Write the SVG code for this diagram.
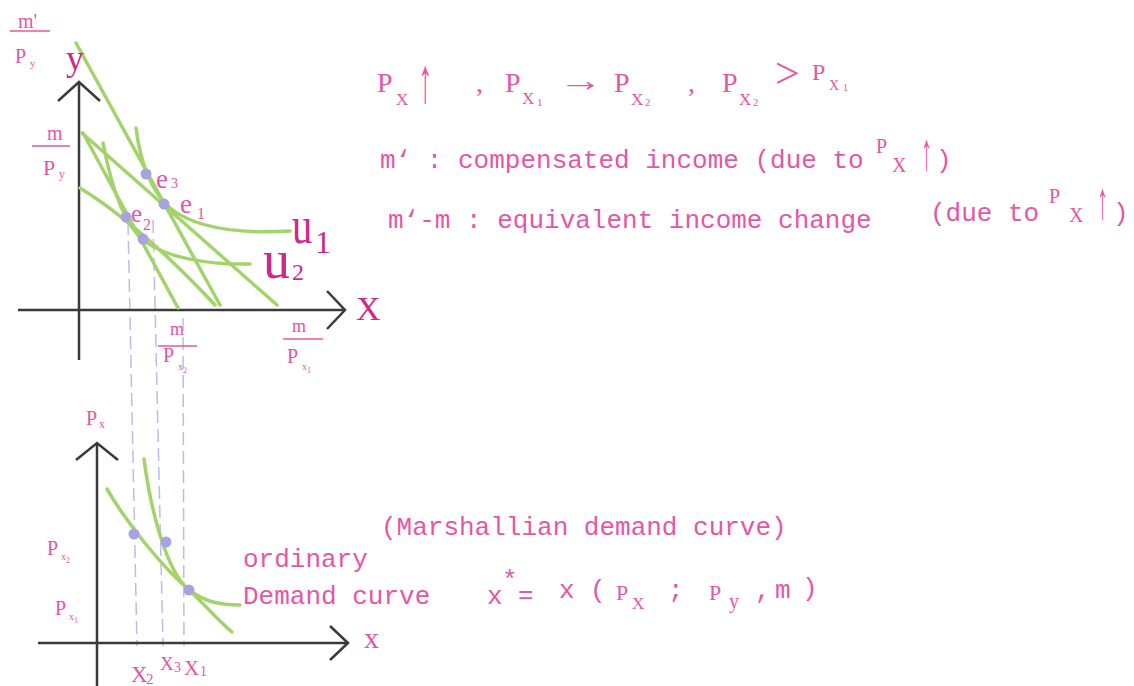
<svg xmlns="http://www.w3.org/2000/svg" width="1134" height="686" viewBox="0 0 1134 686">
<style>
.t{font-family:"Liberation Mono",monospace;font-size:26px;fill:#e656a6}
.s{font-family:"Liberation Serif",serif;fill:#e656a6}
.b{font-family:"Liberation Serif",serif;fill:#d1268c}
.ax{stroke:#3a3a3a;stroke-width:2.5;fill:none}
.g{stroke:#a3d46c;stroke-width:3.5;fill:none;stroke-linecap:round}
.d{stroke:#bcbcec;stroke-width:1.5;stroke-dasharray:13 6;fill:none}
.dot{fill:#a6a3de}
.fr{stroke:#e656a6;stroke-width:1.6}
</style>
<rect width="1134" height="686" fill="#ffffff"/>

<g id="connectors">
<path class="d" d="M128,222 L137,646"/>
<path class="d" d="M153,220 L163,646"/>
<path class="d" d="M183,318 L184,646"/>
</g>

<g id="top-graph">
<path class="ax" d="M79,82 L79,360 M18,310 L344,310 M58,101 L79,82 L100,101 M327,291 L345,310 L327,329"/>
<path class="g" d="M76,43 L220,305"/>
<path class="g" d="M82,133 L277,305"/>
<path class="g" d="M83,133 L178,308"/>
<path class="g" d="M80,188 Q140,225 215,305"/>
<path class="g" d="M136,128 C140,160 150,190 170,208 C195,228 240,234 290,231"/>
<path class="g" d="M103,143 C112,190 125,225 143,240 C165,258 210,265 250,264"/>
<circle class="dot" cx="146" cy="174" r="5.5"/>
<circle class="dot" cx="164" cy="204" r="5.5"/>
<circle class="dot" cx="126" cy="217" r="5.5"/>
<circle class="dot" cx="143" cy="239" r="5.5"/>
</g>

<g id="top-labels">
<text class="s" x="18" y="28" font-size="20">m'</text>
<line class="fr" x1="10" y1="31" x2="50" y2="31"/>
<text class="s" x="15" y="63" font-size="20">P</text>
<text class="s" x="30" y="67" font-size="11">y</text>
<text class="b" x="66" y="70" font-size="36">y</text>
<text class="s" x="47" y="140" font-size="20">m</text>
<line class="fr" x1="32" y1="146" x2="70" y2="146"/>
<text class="s" x="43" y="175" font-size="22">P</text>
<text class="s" x="59" y="178" font-size="12">y</text>
<text class="s" x="156" y="188" font-size="27">e</text>
<text class="s" x="171" y="188" font-size="14">3</text>
<text class="s" x="180" y="213" font-size="27">e</text>
<text class="s" x="197" y="219" font-size="16">1</text>
<text class="s" x="131" y="222" font-size="25">e</text>
<text class="s" x="143" y="230" font-size="16">2</text>
<text class="b" transform="translate(292,243) scale(0.78,1)" font-size="52">u</text>
<text class="b" x="315" y="253" font-size="32">1</text>
<text class="b" x="263" y="278" font-size="54">u</text>
<text class="b" x="292" y="280" font-size="24">2</text>
<text class="b" x="356" y="320" font-size="34">X</text>
<text class="s" x="170" y="335" font-size="18">m</text>
<line class="fr" x1="158" y1="346" x2="197" y2="346"/>
<text class="s" x="163" y="362" font-size="20">P</text>
<text class="s" x="178" y="370" font-size="10">x</text>
<text class="s" x="183" y="373" font-size="8">2</text>
<text class="s" x="292" y="332" font-size="18">m</text>
<line class="fr" x1="283" y1="339" x2="323" y2="339"/>
<text class="s" x="287" y="363" font-size="20">P</text>
<text class="s" x="302" y="370" font-size="10">x</text>
<text class="s" x="307" y="373" font-size="8">1</text>
</g>

<g id="bottom-graph">
<path class="ax" d="M97,443 L97,686 M38,643 L348,643 M76,460 L97,443 L118,460 M330,626 L348,643 L330,660"/>
<path class="g" d="M107,489 C125,520 160,565 189,590 C205,605 220,622 232,632"/>
<path class="g" d="M144,459 C150,505 165,570 189,590 C205,602 220,605 240,605"/>
<circle class="dot" cx="134" cy="534" r="5.5"/>
<circle class="dot" cx="166" cy="542" r="5.5"/>
<circle class="dot" cx="189" cy="590" r="5.5"/>
<text class="s" x="86" y="425" font-size="20">P</text>
<text class="s" x="99" y="428" font-size="12">x</text>
<text class="s" x="47" y="555" font-size="20">P</text>
<text class="s" x="61" y="560" font-size="10">x</text>
<text class="s" x="66" y="563" font-size="8">2</text>
<text class="s" x="55" y="615" font-size="20">P</text>
<text class="s" x="69" y="620" font-size="10">x</text>
<text class="s" x="74" y="623" font-size="8">1</text>
<text class="s" x="364" y="648" font-size="30">x</text>
<text class="s" x="131" y="682" font-size="23">X</text>
<text class="s" x="146" y="684" font-size="15">2</text>
<text class="s" x="160" y="670" font-size="19">X</text>
<text class="s" x="174" y="672" font-size="14">3</text>
<text class="s" x="184" y="675" font-size="21">X</text>
<text class="s" x="200" y="676" font-size="14">1</text>
</g>

<g id="price-change">
<text class="s" x="377" y="92" font-size="28">P</text>
<text class="s" x="396" y="105" font-size="17">X</text>
<text class="s" transform="translate(418,102) scale(0.9,2)" font-size="32">↑</text>
<text class="s" x="476" y="92" font-size="28">,</text>
<text class="s" x="505" y="92" font-size="28">P</text>
<text class="s" x="522" y="104" font-size="17">X</text>
<text class="s" x="537" y="106" font-size="11">1</text>
<text class="s" transform="translate(558,91) scale(1.4,1)" font-size="32">→</text>
<text class="s" x="614" y="92" font-size="28">P</text>
<text class="s" x="631" y="105" font-size="17">X</text>
<text class="s" x="645" y="106" font-size="11">2</text>
<text class="s" x="688" y="92" font-size="28">,</text>
<text class="s" x="722" y="92" font-size="28">P</text>
<text class="s" x="739" y="105" font-size="17">X</text>
<text class="s" x="753" y="106" font-size="11">2</text>
<text class="s" x="775" y="88" font-size="44">&gt;</text>
<text class="s" x="812" y="80" font-size="24">P</text>
<text class="s" x="829" y="90" font-size="14">X</text>
<text class="s" x="843" y="91" font-size="10">1</text>
</g>

<g id="compensated-income">
<text class="t" x="380" y="168">m‘ : compensated income (due to</text>
<text class="s" x="876" y="153" font-size="20">P</text>
<text class="s" x="892" y="172" font-size="20">X</text>
<text class="s" transform="translate(921,170) scale(0.8,1.9)" font-size="28">↑</text>
<text class="t" x="936" y="168">)</text>
</g>

<g id="equivalent-income">
<text class="t" x="388" y="228">m‘-m : equivalent income change</text>
<text class="t" x="930" y="221">(due to</text>
<text class="s" x="1049" y="203" font-size="20">P</text>
<text class="s" x="1069" y="222" font-size="20">X</text>
<text class="s" transform="translate(1097,219) scale(0.8,1.9)" font-size="28">↑</text>
<text class="t" x="1113" y="221">)</text>
</g>

<g id="demand-labels">
<text class="t" x="381" y="535">(Marshallian demand curve)</text>
<text class="t" x="243" y="567">ordinary</text>
<text class="t" x="243" y="604">Demand curve</text>
</g>

<g id="demand-function">
<text class="t" x="487" y="604">x</text>
<text class="t" x="502" y="588" font-size="16">*</text>
<text class="t" x="518" y="603" font-size="30">=</text>
<text class="t" x="559" y="598">x</text>
<text class="t" x="590" y="598">(</text>
<text class="s" x="616" y="600" font-size="22">P</text>
<text class="s" x="632" y="609" font-size="17">X</text>
<text class="t" x="668" y="598">;</text>
<text class="s" x="709" y="600" font-size="22">P</text>
<text class="s" x="729" y="608" font-size="20">y</text>
<text class="t" x="755" y="598">,</text>
<text class="t" x="775" y="598" font-size="22">m</text>
<text class="t" x="802" y="596">)</text>
</g>
</svg>
